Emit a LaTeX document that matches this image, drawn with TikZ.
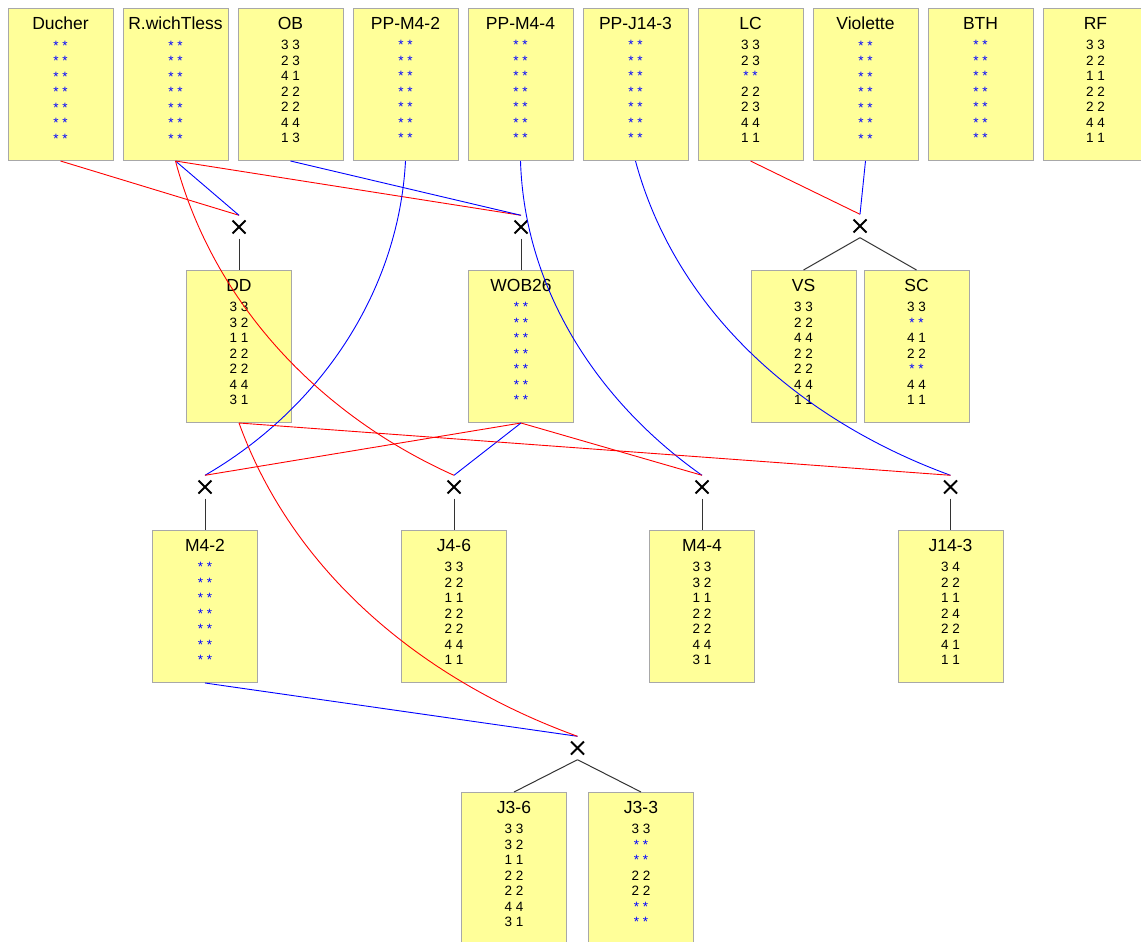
\documentclass[tikz,border=0pt]{standalone}
\usepackage{fontspec}
\setmainfont{Liberation Sans}

\definecolor{cardfill}{RGB}{255,255,153}
\definecolor{cardedge}{RGB}{168,168,168}

\newcommand{\nd}{\textcolor{blue}{* *}}
\newcommand{\allnd}{\nd\\\nd\\\nd\\\nd\\\nd\\\nd\\\nd}
\newcommand{\cardtext}[2]{\parbox[t][152pt][t]{105pt}{\centering
  \vspace*{8.5pt}{\fontsize{17.5}{20}\selectfont #1\par}
  \vspace{5.2pt}{\fontsize{13.5}{15.5}\selectfont #2\par}}}

\begin{document}
\begin{tikzpicture}[x=1pt,y=-1pt,
    card/.style={draw=cardedge, fill=cardfill, line width=1pt, inner sep=0pt, anchor=north},
    mate/.style={circle, minimum size=23pt, inner sep=0pt,
      path picture={\draw[line width=2pt]
        ([shift={(-6.5pt,-6.5pt)}]path picture bounding box.center) -- ([shift={(6.5pt,6.5pt)}]path picture bounding box.center)
        ([shift={(-6.5pt,6.5pt)}]path picture bounding box.center) -- ([shift={(6.5pt,-6.5pt)}]path picture bounding box.center);}},
    pa/.style={blue, line width=0.9pt},
    ma/.style={red, line width=0.9pt},
    kid/.style={black!80, line width=1pt}]
    \useasboundingbox (0,0) rectangle (1141,942);
    \clip (0,0) rectangle (1141,942);

    % first row
    \node[card] (ducher) at (60.5,8) {\cardtext{Ducher}{\allnd}};
    \node[card] (rwich) at (175.5,8) {\cardtext{R.wichTless}{\allnd}};
    \node[card] (ob) at (290.5,8) {\cardtext{OB}{3 3\\2 3\\4 1\\2 2\\2 2\\4 4\\1 3}};
    \node[card] (ppm42) at (405.5,8) {\cardtext{PP-M4-2}{\allnd}};
    \node[card] (ppm44) at (520.5,8) {\cardtext{PP-M4-4}{\allnd}};
    \node[card] (ppj143) at (635.5,8) {\cardtext{PP-J14-3}{\allnd}};
    \node[card] (lc) at (750.5,8) {\cardtext{LC}{3 3\\2 3\\\nd\\2 2\\2 3\\4 4\\1 1}};
    \node[card] (violette) at (865.5,8) {\cardtext{Violette}{\allnd}};
    \node[card] (bth) at (980.5,8) {\cardtext{BTH}{\allnd}};
    \node[card] (rf) at (1095.5,8) {\cardtext{RF}{3 3\\2 2\\1 1\\2 2\\2 2\\4 4\\1 1}};

    % second row
    \node[card] (dd) at (239,270) {\cardtext{DD}{3 3\\3 2\\1 1\\2 2\\2 2\\4 4\\3 1}};
    \node[card] (wob) at (521,270) {\cardtext{WOB26}{\allnd}};
    \node[card] (vs) at (803.5,270) {\cardtext{VS}{3 3\\2 2\\4 4\\2 2\\2 2\\4 4\\1 1}};
    \node[card] (sc) at (916.5,270) {\cardtext{SC}{3 3\\\nd\\4 1\\2 2\\\nd\\4 4\\1 1}};

    % third row
    \node[card] (m42) at (205,530) {\cardtext{M4-2}{\allnd}};
    \node[card] (j46) at (454,530) {\cardtext{J4-6}{3 3\\2 2\\1 1\\2 2\\2 2\\4 4\\1 1}};
    \node[card] (m44) at (702,530) {\cardtext{M4-4}{3 3\\3 2\\1 1\\2 2\\2 2\\4 4\\3 1}};
    \node[card] (j143) at (950.5,530) {\cardtext{J14-3}{3 4\\2 2\\1 1\\2 4\\2 2\\4 1\\1 1}};

    % last row
    \node[card] (j36) at (514,792) {\cardtext{J3-6}{3 3\\3 2\\1 1\\2 2\\2 2\\4 4\\3 1}};
    \node[card] (j33) at (641,792) {\cardtext{J3-3}{3 3\\\nd\\\nd\\2 2\\2 2\\\nd\\\nd}};

    % matings
    \node[mate] (xdd) at (239,227) {};
    \node[mate] (xwob) at (521,227) {};
    \node[mate] (xvs) at (860,226) {};
    \node[mate] (xm42) at (205,487) {};
    \node[mate] (xj46) at (454,487) {};
    \node[mate] (xm44) at (702,487) {};
    \node[mate] (xj143) at (950.5,487) {};
    \node[mate] (xj3) at (577.5,748) {};

    \draw[ma] (ducher.south) -- (xdd.north);
    \draw[pa] (rwich.south) -- (xdd.north);
    \draw[ma] (rwich.south) -- (xwob.north);
    \draw[pa] (ob.south) -- (xwob.north);
    \draw[ma] (lc.south) -- (xvs.north);
    \draw[pa] (violette.south) -- (xvs.north);
    \draw[kid] (xdd.south) -- (dd.north);
    \draw[kid] (xwob.south) -- (wob.north);
    \draw[kid] (xvs.south) -- (vs.north);
    \draw[kid] (xvs.south) -- (sc.north);

    \draw[pa] (ppm42.south) .. controls +(-7,132) and +(114,-66) .. (xm42.north);
    \draw[ma] (wob.south) -- (xm42.north);
    \draw[ma] (rwich.south) .. controls +(38,143) and +(-134,-60) .. (xj46.north);
    \draw[pa] (wob.south) -- (xj46.north);
    \draw[pa] (ppm44.south) .. controls +(4,128) and +(-105,-74) .. (xm44.north);
    \draw[ma] (wob.south) -- (xm44.north);
    \draw[pa] (ppj143.south) .. controls +(41,152) and +(-148,-54) .. (xj143.north);
    \draw[ma] (dd.south) -- (xj143.north);
    \draw[kid] (xm42.south) -- (m42.north);
    \draw[kid] (xj46.south) -- (j46.north);
    \draw[kid] (xm44.south) -- (m44.north);
    \draw[kid] (xj143.south) -- (j143.north);

    \draw[pa] (m42.south) -- (xj3.north);
    \draw[ma] (dd.south) .. controls +(55,152) and +(-152,-55) .. (xj3.north);
    \draw[kid] (xj3.south) -- (j36.north);
    \draw[kid] (xj3.south) -- (j33.north);
\end{tikzpicture}
\end{document}
